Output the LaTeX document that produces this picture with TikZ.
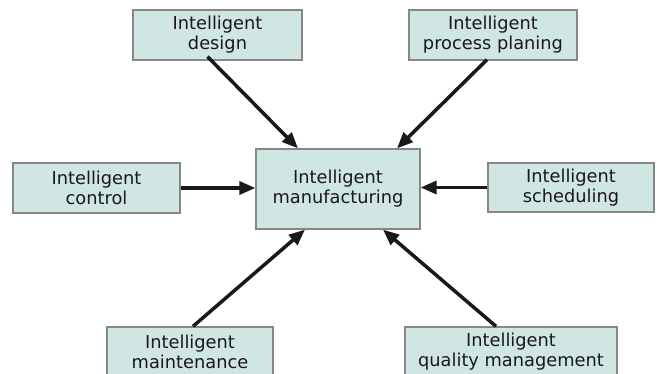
\documentclass[tikz,border=0pt]{standalone}
\usepackage{fontspec}
\setmainfont{DejaVu Sans}
\usepackage{tikz}
\usetikzlibrary{arrows.meta}

\definecolor{boxfill}{RGB}{208,230,227}
\definecolor{boxline}{RGB}{135,135,135}

\begin{document}
\begin{tikzpicture}[x=1pt,y=-1pt]
      \useasboundingbox (0,0) rectangle (657,374);

      \begin{scope}[every node/.style={rectangle, draw=boxline, fill=boxfill, line width=1.3pt, align=center, inner sep=0pt, text=black!90, font=\fontsize{17.8}{20}\selectfont}]
        \node [minimum width=169pt, minimum height=50pt] (design) at (217.5,35) {Intelligent\\design};
        \node [minimum width=168pt, minimum height=50pt] (plan) at (493,35) {Intelligent\\process planing};
        \node [minimum width=167pt, minimum height=50pt] (ctrl) at (96.5,188) {Intelligent\\control};
        \node [minimum width=164pt, minimum height=80pt] (mfg) at (338,189) {Intelligent\\manufacturing};
        \node [minimum width=166pt, minimum height=49pt] (sched) at (571,187.5) {Intelligent\\scheduling};
        \node [minimum width=166pt, minimum height=50pt] (maint) at (190,352) {Intelligent\\maintenance};
        \node [minimum width=212pt, minimum height=50pt] (qual) at (511,352) {Intelligent\\quality management};
      \end{scope}

      \begin{scope}[->, >={Triangle[length=16pt,width=13pt]}, line width=3.5pt, black!90]
        \draw ([xshift=-10pt,yshift=4pt]design.south) -- ([xshift=-40pt]mfg.north);
        \draw ([xshift=-6pt,yshift=1pt]plan.south) -- ([xshift=59pt]mfg.north);
        \draw (ctrl.east) -- (mfg.west |- ctrl.east);
        \draw (sched.west) -- (mfg.east |- sched.west);
        \draw ([xshift=3pt]maint.north) -- ([xshift=-33pt]mfg.south);
        \draw ([xshift=-15pt]qual.north) -- ([xshift=45pt]mfg.south);
      \end{scope}
   \end{tikzpicture}
\end{document}
